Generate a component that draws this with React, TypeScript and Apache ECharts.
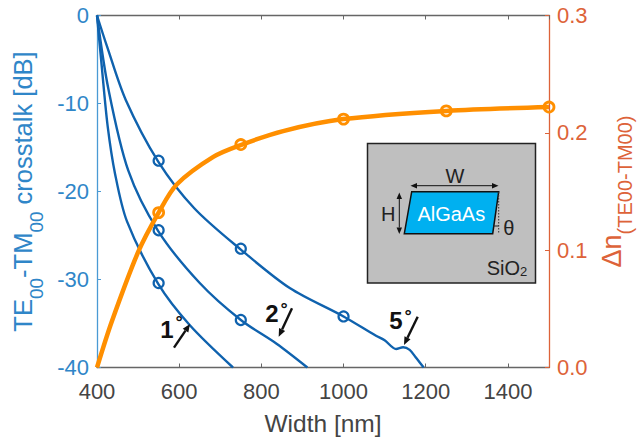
import React, { useEffect, useRef } from "react";
import * as echarts from "echarts";

const xTickStep = 200;
const crosstalk1: [number, number][] = [[400,0],[412,-6],[426,-12.6],[444,-18],[473,-23.4],[549,-30.5],[626,-35.2],[731,-40]];
const crosstalk2: [number, number][] = [[400,0],[427.5,-8.3],[476,-17.6],[549,-24.5],[650,-30.4],[750,-34.6],[837,-37.3],[912,-40]];
const crosstalk5: [number, number][] = [[400,0],[425,-3.6],[470,-9.6],[549,-16.6],[636.7,-21.9],[750,-26.6],[870,-31],[1000,-34.2],[1079,-36.4],[1100,-36.9],[1128,-37.9],[1145,-37.7],[1161,-38],[1175,-38.8],[1195,-40]];
const deltaN: [number, number][] = [[400,0],[435.8,0.039],[500.5,0.0987],[550,0.132],[594,0.156],[683,0.1795],[749.6,0.1896],[853,0.2015],[999,0.2117],[1250,0.2187],[1500,0.222]];
const markers1: [number, number][] = [[550,-30.4]];
const markers2: [number, number][] = [[550,-24.4],[750,-34.6]];
const markers5: [number, number][] = [[550,-16.5],[750,-26.5],[1000,-34.2]];
const markersN: [number, number][] = [[550,0.132],[750,0.19],[1000,0.2117],[1250,0.2187],[1500,0.222]];

const BLUE = "#0f62ae";
const LEFT = "#2f86c8";
const ORANGE = "#ff8f00";
const RIGHT = "#dd6339";
const DARK = "#444444";
const FONT = "Liberation Sans";

function arrow(x1: number, y1: number, x2: number, y2: number, width: number, head: number, color: string) {
  const a = Math.atan2(y2 - y1, x2 - x1);
  const bx = x2 - Math.cos(a) * head;
  const by = y2 - Math.sin(a) * head;
  const px = -Math.sin(a) * head * 0.42;
  const py = Math.cos(a) * head * 0.42;
  return [
    { type: "line", shape: { x1, y1, x2: bx, y2: by }, style: { stroke: color, lineWidth: width }, z: 100 },
    { type: "polygon", shape: { points: [[x2, y2], [bx + px, by + py], [bx - px, by - py]] }, style: { fill: color }, z: 100 },
  ];
}
const label = (x: number, y: number, text: string, fontSize: number, fill: string, fontWeight = "normal") => ({
  type: "text", x, y, z: 101,
  style: { text, fontSize, fill, fontWeight, fontFamily: FONT, align: "center", verticalAlign: "middle" },
});

const graphicElements: any[] = [
  { type: "rect", shape: { x: 367.5, y: 143.5, width: 168, height: 139.5 }, style: { fill: "#bfbfbf", stroke: "#222222", lineWidth: 1.5 }, z: 99 },
  { type: "polygon", shape: { points: [[411.7,191.7],[498.7,191.7],[492.7,233.7],[404.3,233.7]] }, style: { fill: "#00b0f0", stroke: "#111111", lineWidth: 1.5 }, z: 100 },
  { type: "line", shape: { x1: 498.7, y1: 192, x2: 498.7, y2: 234 }, style: { stroke: "#333333", lineWidth: 1, lineDash: [1.5, 1.5] }, z: 100 },
  { type: "line", shape: { x1: 493, y1: 226, x2: 498.5, y2: 226 }, style: { stroke: "#222222", lineWidth: 1 }, z: 100 },
  ...arrow(455, 185.7, 498.5, 185.7, 1, 6.5, "#111111"),
  ...arrow(455, 185.7, 410.5, 185.7, 1, 6.5, "#111111"),
  ...arrow(399.3, 213, 399.3, 192.5, 1, 6.5, "#111111"),
  ...arrow(399.3, 213, 399.3, 234, 1, 6.5, "#111111"),
  label(455, 176, "W", 20, "#222222"),
  label(388.3, 214, "H", 20, "#222222"),
  label(451.3, 214, "AlGaAs", 20, "#ffffff"),
  label(508.7, 227.5, "θ", 20, "#222222"),
  {
    type: "text", x: 507, y: 268, z: 101,
    style: {
      text: "SiO{s|2}", fontSize: 20, fill: "#222222", fontFamily: FONT, align: "center", verticalAlign: "middle",
      rich: { s: { fontSize: 13, fill: "#222222", fontFamily: FONT, verticalAlign: "bottom", lineHeight: 14 } },
    },
  },
  ...arrow(174, 347.7, 190, 324, 2.4, 8, "#111111"),
  ...arrow(292, 308.3, 278.7, 336.7, 2.4, 8, "#111111"),
  ...arrow(417.7, 316.7, 404, 345, 2.4, 8, "#111111"),
  label(167, 329, "1", 24, "#111111", "bold"),
  label(179, 322, "°", 18, "#111111", "bold"),
  label(272, 313, "2", 24, "#111111", "bold"),
  label(284, 309, "°", 18, "#111111", "bold"),
  label(396, 320, "5", 24, "#111111", "bold"),
  label(408, 316, "°", 18, "#111111", "bold"),
];

const blueLine = (data: [number, number][]) => ({
  type: "line", data, smooth: 0.3, symbol: "none", xAxisIndex: 0, yAxisIndex: 0,
  lineStyle: { color: BLUE, width: 2.4 }, z: 2,
});
const markerSeries = (data: [number, number][], color: string, yAxisIndex: number, z: number, borderWidth: number) => ({
  type: "scatter", data, symbol: "circle", symbolSize: 10, xAxisIndex: 0, yAxisIndex, clip: false, z,
  itemStyle: { color: "transparent", borderColor: color, borderWidth, opacity: 1 },
});

export default function App() {
  const ref = useRef<HTMLDivElement>(null);
  useEffect(() => {
    const chart = echarts.init(ref.current!, undefined, { renderer: "svg" });
    const xCommon = {
      type: "value", min: 400, max: 1500, interval: xTickStep, splitLine: { show: false },
      axisLine: { show: true, onZero: false, lineStyle: { color: "#666666", width: 1.3 } },
      axisTick: { show: true, inside: true, length: 4, lineStyle: { color: "#666666", width: 1 } },
    };
    chart.setOption({
      animation: false,
      backgroundColor: "#ffffff",
      textStyle: { fontFamily: FONT },
      grid: { left: 97, right: 95, top: 15.5, bottom: 70.5, outerBoundsMode: "none" },
      xAxis: [
        {
          ...xCommon, position: "bottom", name: "Width [nm]", nameLocation: "middle", nameGap: 43,
          nameTextStyle: { fontSize: 24.5, color: DARK, fontFamily: FONT },
          axisLabel: { fontSize: 22, color: DARK, margin: 13, showMaxLabel: false, fontFamily: FONT, formatter: (v: number) => String(v) },
        },
        { ...xCommon, position: "top", axisLabel: { show: false } },
      ],
      yAxis: [
        {
          type: "value", min: -40, max: 0, interval: 10, position: "left", splitLine: { show: false },
          name: "{m|TE}{s|00}{m|-TM}{s|00}{m| crosstalk [dB]}", nameLocation: "middle", nameRotate: 90, nameGap: 49,
          nameTextStyle: {
            rich: {
              m: { fontSize: 25.5, color: LEFT, fontFamily: FONT, lineHeight: 46, verticalAlign: "middle" },
              s: { fontSize: 19, color: LEFT, fontFamily: FONT, lineHeight: 16, verticalAlign: "bottom" },
            },
          },
          axisLine: { show: true, onZero: false, lineStyle: { color: "#4a9ad4", width: 1.3 } },
          axisTick: { show: true, inside: true, length: 4, lineStyle: { color: "#4a9ad4", width: 1 } },
          axisLabel: { fontSize: 22, color: LEFT, margin: 8, fontFamily: FONT },
        },
        {
          type: "value", min: 0, max: 0.3, interval: 0.1, position: "right", splitLine: { show: false },
          name: "{m|Δn}{s|(TE00-TM00)}", nameLocation: "middle", nameRotate: 90, nameGap: 40,
          nameTextStyle: {
            rich: {
              m: { fontSize: 27, color: RIGHT, fontFamily: FONT, lineHeight: 46, verticalAlign: "middle" },
              s: { fontSize: 20, color: RIGHT, fontFamily: FONT, lineHeight: 16, verticalAlign: "bottom" },
            },
          },
          axisLine: { show: true, onZero: false, lineStyle: { color: RIGHT, width: 1.3 } },
          axisTick: { show: true, inside: true, length: 4, lineStyle: { color: RIGHT, width: 1 } },
          axisLabel: { fontSize: 22, color: RIGHT, margin: 8, fontFamily: FONT, formatter: (v: number) => v.toFixed(1) },
        },
      ],
      series: [
        blueLine(crosstalk1),
        blueLine(crosstalk2),
        blueLine(crosstalk5),
        markerSeries(markers1, BLUE, 0, 3, 2.2),
        markerSeries(markers2, BLUE, 0, 3, 2.2),
        markerSeries(markers5, BLUE, 0, 3, 2.2),
        {
          type: "line", data: deltaN, smooth: 0.3, symbol: "none", xAxisIndex: 0, yAxisIndex: 1,
          lineStyle: { color: ORANGE, width: 4.5 }, z: 4,
        },
        markerSeries(markersN, ORANGE, 1, 5, 2.8),
      ],
      graphic: { elements: graphicElements },
    });
    return () => chart.dispose();
  }, []);
  return <div ref={ref} style={{ position: "fixed", left: 0, top: 0, width: 644, height: 438 }} />;
}
